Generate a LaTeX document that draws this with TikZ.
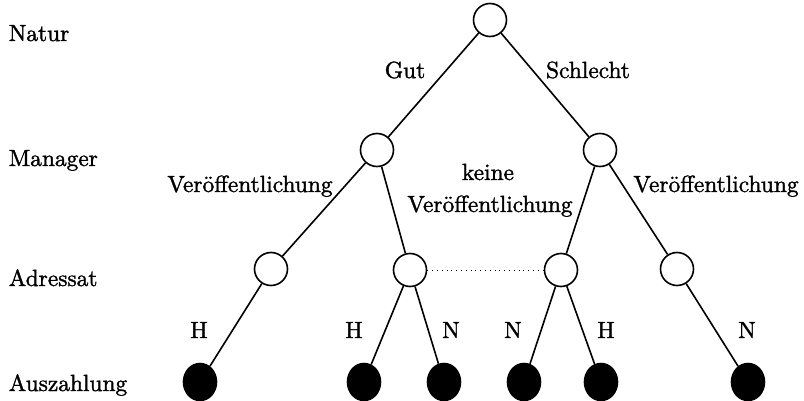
\documentclass[tikz,border=0pt]{standalone}
\usepackage{amsmath,amsfonts,amssymb}
\usepackage{fontspec}
\usepackage{tikz}
\usepackage{xcolor}
\usetikzlibrary{shapes.geometric}
\newfontfamily\treefont{lmroman10-regular}[Extension=.otf,FakeBold=1.4]

\begin{document}
\begin{tikzpicture}[x=0.5pt,y=-0.5pt,line width=0.8pt,
  font=\treefont\fontsize{11.7}{14}\selectfont,
  open/.style={circle,draw,fill=white,inner sep=0pt,minimum size=16.5pt},
  payoff/.style={ellipse,draw,fill=black,inner sep=0pt,minimum width=16.5pt,minimum height=18.5pt},
  lbl/.style={anchor=base,inner sep=0pt}]
\useasboundingbox (0,0) rectangle (804,401);
% row labels
\node [lbl,anchor=base west] (natur) at (8,41) {Natur};
\node [lbl,anchor=base west] (manager) at (8,166) {Manager};
\node [lbl,anchor=base west] (adressat) at (8,286) {Adressat};
\node [lbl,anchor=base west] (auszahlung) at (8,391) {Auszahlung};
% decision nodes
\node [open] (n) at (490,20) {};
\node [open] (m1) at (377,150) {};
\node [open] (m2) at (600,150) {};
\node [open] (a1) at (271,269) {};
\node [open] (a2) at (410,270) {};
\node [open] (a3) at (561,270) {};
\node [open] (a4) at (677,269) {};
% payoffs
\node [payoff] (p1) at (200,382) {};
\node [payoff] (p2) at (364,382) {};
\node [payoff] (p3) at (444,382) {};
\node [payoff] (p4) at (524,382) {};
\node [payoff] (p5) at (601,382) {};
\node [payoff] (p6) at (748,382) {};
% branches
\draw (n) -- (m1);
\draw (n) -- (m2);
\draw (m1) -- (a1);
\draw (m1) -- (a2);
\draw (m2) -- (a3);
\draw (m2) -- (a4);
\draw (a1) -- (p1);
\draw (a2) -- (p2);
\draw (a2) -- (p3);
\draw (a3) -- (p4);
\draw (a3) -- (p5);
\draw (a4) -- (p6);
\draw [line width=0.4pt,dotted] (a2) -- (a3);
% branch labels
\node [lbl] (gut) at (405,78) {Gut};
\node [lbl] (schlecht) at (588,78) {Schlecht};
\node [lbl] (v1) at (250,192) {Veröffentlichung};
\node [lbl] (keine) at (488,180) {keine};
\node [lbl] (v2) at (490,212) {Veröffentlichung};
\node [lbl] (v3) at (716,192) {Veröffentlichung};
\node [lbl] (h1) at (199,338) {H};
\node [lbl] (h2) at (354,338) {H};
\node [lbl] (n1) at (451,338) {N};
\node [lbl] (n2) at (513,338) {N};
\node [lbl] (h3) at (606,338) {H};
\node [lbl] (n3) at (747,338) {N};
\end{tikzpicture}
\end{document}
